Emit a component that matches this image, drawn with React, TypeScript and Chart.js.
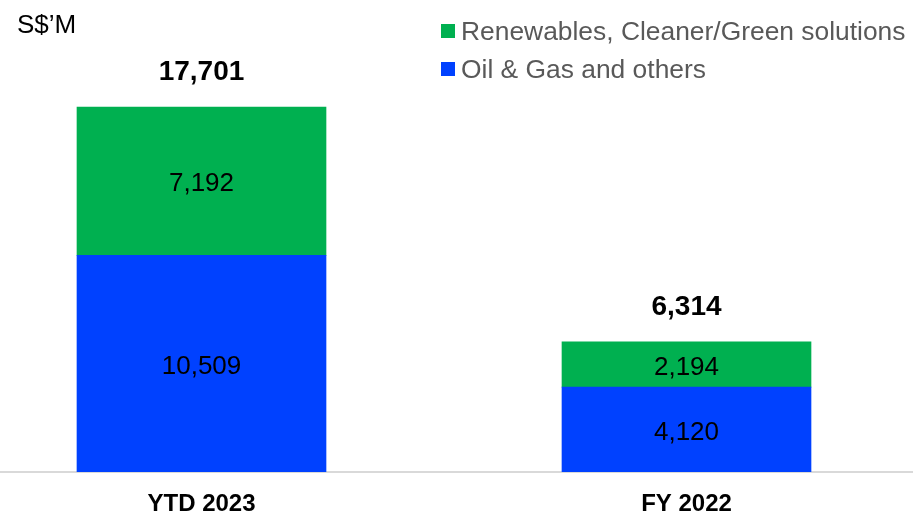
import React, { useEffect, useRef } from "react";
import { Chart, registerables } from "chart.js";

Chart.register(...registerables);

const categories = ["YTD 2023", "FY 2022"];
const oilGas = [10509, 4120];
const renewables = [7192, 2194];
const unitLabel = "S$\u2019M";
const seriesNames = ["Oil & Gas and others", "Renewables, Cleaner/Green solutions"];
const seriesColors = ["#0041ff", "#00b050"];

const FONT = "'Liberation Sans', Arial, sans-serif";
const fmt = (v: number) => v.toLocaleString("en-US");

const labelsPlugin = {
  id: "customLabels",
  afterDatasetsDraw(chart: any) {
    const ctx = chart.ctx;
    ctx.save();
    ctx.textAlign = "center";
    ctx.textBaseline = "middle";
    ctx.fillStyle = "#000";
    ctx.font = `26px ${FONT}`;
    chart.data.datasets.forEach((ds: any, di: number) => {
      const meta = chart.getDatasetMeta(di);
      meta.data.forEach((el: any, i: number) => {
        const v = ds.data[i].y;
        ctx.fillText(fmt(v), el.x, (el.y + el.base) / 2 + 3);
      });
    });
    ctx.font = `bold 28px ${FONT}`;
    const last = chart.getDatasetMeta(chart.data.datasets.length - 1);
    categories.forEach((_, i) => {
      const total = oilGas[i] + renewables[i];
      const el = last.data[i];
      ctx.fillText(fmt(total), el.x, el.y - 35);
    });
    ctx.textAlign = "left";
    ctx.textBaseline = "alphabetic";
    ctx.font = `26px ${FONT}`;
    ctx.fillText(unitLabel, 17, 33);
    ctx.font = `26.4px ${FONT}`;
    const items = [1, 0];
    items.forEach((si, row) => {
      const y = 24 + row * 38;
      ctx.fillStyle = seriesColors[si];
      ctx.fillRect(441, y, 14, 14);
      ctx.fillStyle = "#595959";
      ctx.fillText(seriesNames[si], 461, y + 16);
    });
    ctx.restore();
  },
};

export default function App() {
  const ref = useRef<HTMLCanvasElement | null>(null);
  useEffect(() => {
    if (!ref.current) return;
    const minX = -201.5 / 485;
    const maxX = minX + 913 / 485;
    const chart = new Chart(ref.current, {
      type: "bar",
      data: {
        datasets: [
          {
            label: seriesNames[0],
            data: categories.map((_, i) => ({ x: i, y: oilGas[i] })),
            backgroundColor: seriesColors[0],
            barThickness: 249,
          },
          {
            label: seriesNames[1],
            data: categories.map((_, i) => ({ x: i, y: renewables[i] })),
            backgroundColor: seriesColors[1],
            barThickness: 249,
          },
        ],
      },
      options: {
        animation: false,
        responsive: true,
        maintainAspectRatio: false,
        layout: { padding: 0 },
        plugins: { legend: { display: false }, tooltip: { enabled: false } },
        scales: {
          x: {
            type: "linear",
            stacked: true,
            offset: false,
            bounds: "data",
            min: minX,
            max: maxX,
            afterBuildTicks: (axis: any) => {
              axis.ticks = categories.map((_, i) => ({ value: i }));
            },
            grid: { display: false, drawTicks: false, offset: false },
            border: { display: true, color: "#d9d9d9", width: 2 },
            ticks: {
              autoSkip: false,
              maxRotation: 0,
              padding: 17.6,
              color: "#000",
              font: { family: FONT, size: 24, weight: "bold" },
              callback: (v: any) => categories[v] ?? "",
            },
          },
          y: {
            stacked: true,
            display: false,
            min: 0,
            max: 22900,
          },
        },
      },
      plugins: [labelsPlugin],
    });
    return () => chart.destroy();
  }, []);
  return (
    <div style={{ position: "fixed", left: 0, top: 0, width: 913, height: 513, overflow: "hidden", background: "#fff" }}>
      <div style={{ position: "relative", width: 913, height: 536 }}>
        <canvas ref={ref} />
      </div>
    </div>
  );
}
